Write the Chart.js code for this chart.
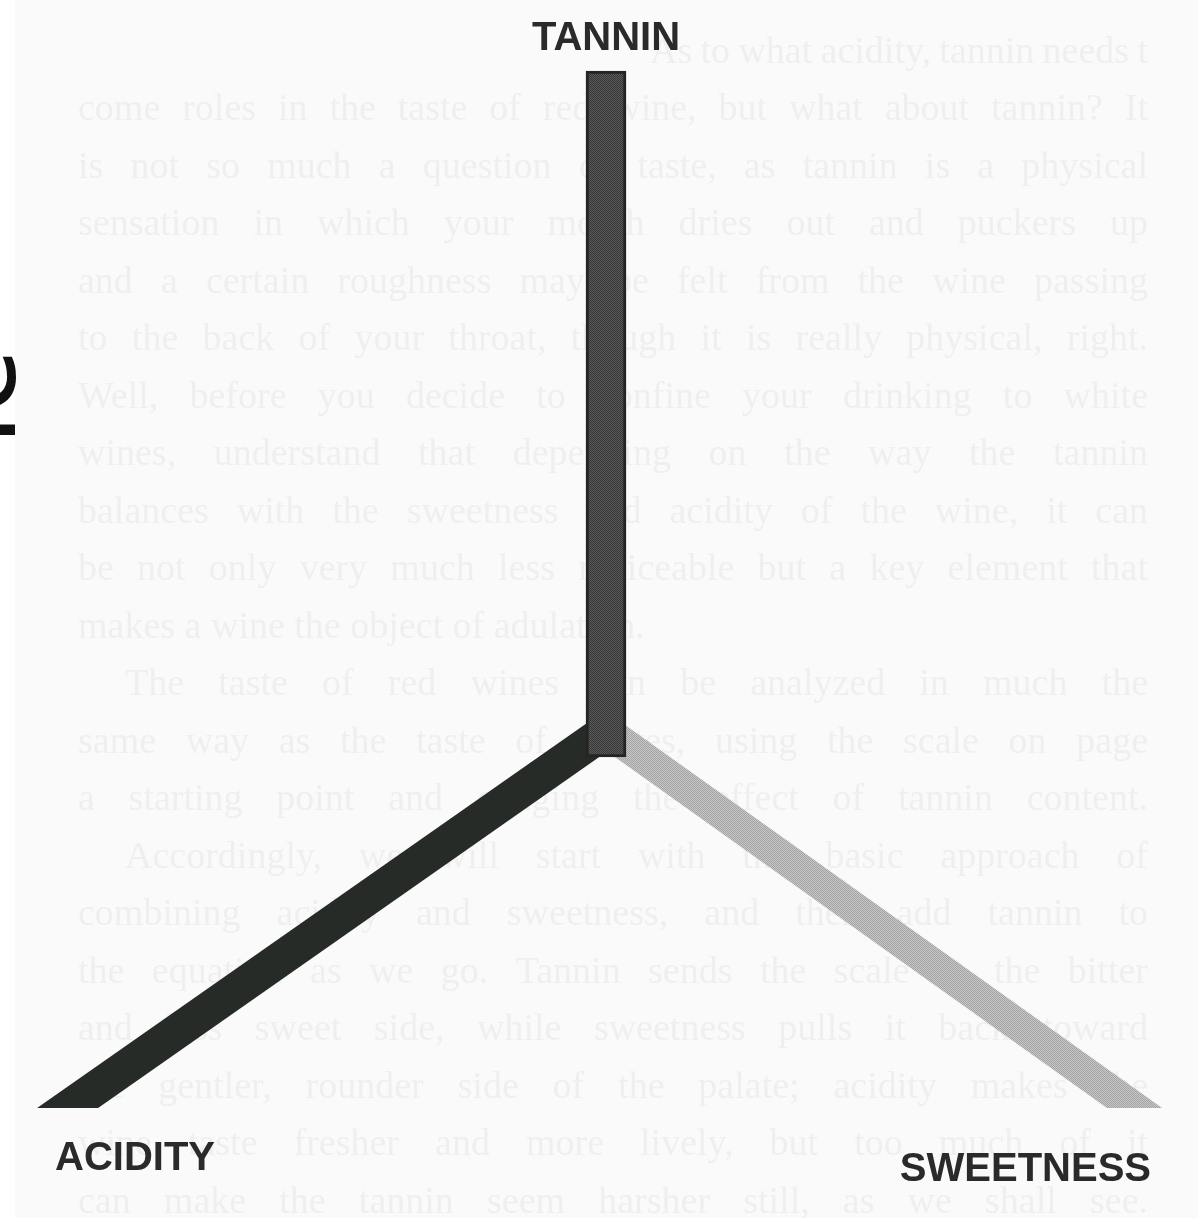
<!DOCTYPE html>
<html>
<head>
<meta charset="utf-8">
<title>Tannin, acidity and sweetness</title>
<script src="https://cdn.jsdelivr.net/npm/chart.js@4.4.1/dist/chart.umd.min.js"></script>
<style>
  html, body { margin: 0; padding: 0; background: #fff; }
  canvas { display: block; }
</style>
</head>
<body>
<canvas id="chart" width="1198" height="1218"></canvas>
<script>
// the three taste axes of the diagram
const categories = ['TANNIN', 'ACIDITY', 'SWEETNESS'];
const armLength = [660, 700, 700];     // along each axis, from the meeting point
const armAngle = [90, 215, 324.5];     // direction of each axis, degrees

// faint text of the book page behind the diagram
const pageLines = [
  'As to what acidity, tannin needs t',
  'come roles in the taste of red wine, but what about tannin? It',
  'is not so much a question of taste, as tannin is a physical',
  'sensation in which your mouth dries out and puckers up',
  'and a certain roughness may be felt from the wine passing',
  'to the back of your throat, though it is really physical, right.',
  'Well, before you decide to confine your drinking to white',
  'wines, understand that depending on the way the tannin',
  'balances with the sweetness and acidity of the wine, it can',
  'be not only very much less noticeable but a key element that',
  'makes a wine the object of adulation.',
  'The taste of red wines can be analyzed in much the',
  'same way as the taste of whites, using the scale on page',
  'a starting point and gauging the effect of tannin content.',
  'Accordingly, we will start with the basic approach of',
  'combining acidity and sweetness, and then add tannin to',
  'the equation as we go. Tannin sends the scale to the bitter',
  'and less sweet side, while sweetness pulls it back toward',
  'the gentler, rounder side of the palate; acidity makes the',
  'wine taste fresher and more lively, but too much of it',
  'can make the tannin seem harsher still, as we shall see.'
];

const TANNIN_FOOT = 26;   // the tannin bar runs a little below the meeting point

function tip(i) {
  const a = armAngle[i] * Math.PI / 180;
  return { x: armLength[i] * Math.cos(a), y: armLength[i] * Math.sin(a) };
}

const canvas = document.getElementById('chart');
const ctx0 = canvas.getContext('2d');

// halftone look of the printed greys
function dots(base, dot) {
  const c = document.createElement('canvas');
  c.width = c.height = 2;
  const g = c.getContext('2d');
  g.fillStyle = base; g.fillRect(0, 0, 2, 2);
  g.fillStyle = dot; g.fillRect(0, 0, 1, 1); g.fillRect(1, 1, 1, 1);
  return ctx0.createPattern(c, 'repeat');
}
const tanninFill = dots('#5a5a5a', '#363636');
const sweetFill = dots('#c8c8c8', '#a2a2a2');

function justify(ctx, text, x0, x1, y) {
  const words = text.split(' ');
  const widths = words.map(w => ctx.measureText(w).width);
  const total = widths.reduce((s, w) => s + w, 0);
  let gap = words.length > 1 ? (x1 - x0 - total) / (words.length - 1) : 0;
  if (gap < 6) gap = 6;
  let x = x0;
  words.forEach((w, k) => { ctx.fillText(w, x, y); x += widths[k] + gap; });
}

const pagePlugin = {
  id: 'page',
  beforeDraw(chart) {
    const ctx = chart.ctx;
    ctx.save();
    ctx.fillStyle = '#ffffff';
    ctx.fillRect(0, 0, chart.width, chart.height);
    ctx.fillStyle = '#fafafa';
    ctx.fillRect(15, 0, chart.width - 15, chart.height);

    ctx.font = '38px "Liberation Serif", "DejaVu Serif", serif';
    ctx.fillStyle = '#eeefee';
    ctx.textBaseline = 'middle';
    ctx.textAlign = 'left';
    const starts = { 0: 650, 11: 125, 14: 125 };
    pageLines.forEach((line, i) => {
      const y = 53 + i * 57.5;
      if (i === 10) ctx.fillText(line, 78, y);
      else justify(ctx, line, starts[i] || 78, 1148, y);
    });

    // cut-off letters on the left edge
    ctx.translate(15, 445);
    ctx.rotate(-Math.PI / 2);
    ctx.font = '118px "Noto Sans", "Open Sans", sans-serif';
    ctx.fillStyle = '#111';
    ctx.textBaseline = 'alphabetic';
    ctx.fillText('le', 0, 0);
    ctx.restore();
  }
};

const labelPlugin = {
  id: 'labels',
  afterDatasetsDraw(chart) {
    const { ctx, scales: { x, y } } = chart;
    ctx.save();
    ctx.font = 'bold 40px "Liberation Sans", Arial, sans-serif';
    ctx.fillStyle = '#2a2a2a';
    ctx.textBaseline = 'middle';
    ctx.textAlign = 'center';
    ctx.fillText(categories[0], x.getPixelForValue(0), y.getPixelForValue(armLength[0]) - 32);
    ctx.textAlign = 'left';
    ctx.fillText(categories[1], 55, 1159);
    ctx.textAlign = 'right';
    ctx.fillText(categories[2], 1151, 1170);
    ctx.restore();
  }
};

const arm = (i, color, width) => ({
  type: 'line',
  label: categories[i],
  data: [{ x: 0, y: 0 }, tip(i)],
  borderColor: color,
  borderWidth: width,
  borderCapStyle: 'butt',
  pointRadius: 0,
  fill: false,
  clip: 0,
  order: i
});

new Chart(canvas, {
  type: 'bar',
  data: {
    datasets: [
      {
        type: 'bar',
        label: categories[0],
        data: [{ x: 0, y: [-TANNIN_FOOT, tip(0).y] }],
        backgroundColor: tanninFill,
        borderColor: '#242424',
        borderWidth: 3,
        borderSkipped: false,
        barThickness: 40,
        order: 0
      },
      arm(1, '#272b27', 35),
      arm(2, sweetFill, 32)
    ]
  },
  options: {
    responsive: false,
    animation: false,
    layout: { padding: { left: 0, right: 0, top: 0, bottom: 110 } },
    plugins: { legend: { display: false }, tooltip: { enabled: false } },
    scales: {
      x: { type: 'linear', min: -606, max: 592, offset: false, display: false },
      y: { type: 'linear', min: -377, max: 731, display: false }
    }
  },
  plugins: [pagePlugin, labelPlugin]
});
</script>
</body>
</html>
